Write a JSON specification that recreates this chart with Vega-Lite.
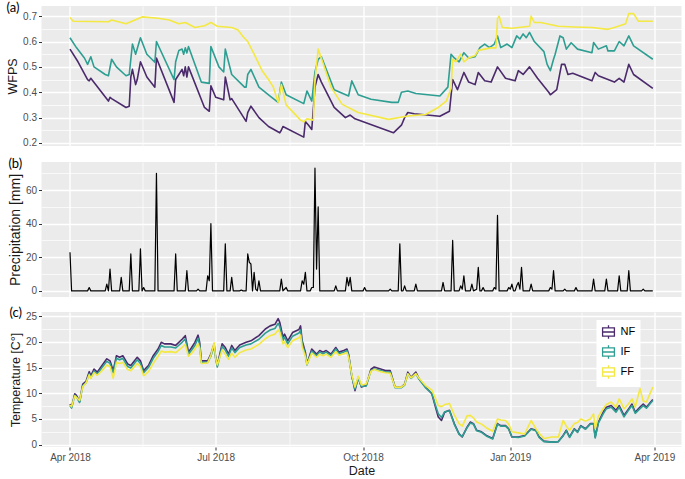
{
"$schema": "https://vega.github.io/schema/vega-lite/v6.json",
"background": "white",
"padding": {"top": 2, "left": 6.5, "right": 1, "bottom": 0},
"spacing": 10,
"resolve": {"scale": {"color": "independent"}, "legend": {"color": "independent"}},
"config": {
  "font": "Liberation Sans",
  "view": {"fill": "#EBEBEB", "stroke": null},
  "axis": {"domain": false, "gridColor": "#FFFFFF", "tickColor": "#333333", "tickSize": 3, "labelColor": "#4D4D4D", "labelFontSize": 10, "labelFont": "Liberation Sans", "titleFont": "Liberation Sans", "titleFontSize": 12.5, "titleFontWeight": "normal", "titleColor": "#1A1A1A", "labelPadding": 2, "titlePadding": 3},
  "title": {"anchor": "start", "frame": "bounds", "fontSize": 13, "fontWeight": "normal", "font": "Lato", "offset": -9, "color": "#000000"}
},
"vconcat": [
{
  "width": 640, "height": 140,
  "title": "(a)",
  "data": {"format": {"parse": {"d": "date:'%Y-%m-%d'"}}, "values": [
{"s":"NF","d":"2018-04-01","v":0.57},{"s":"NF","d":"2018-04-06","v":0.52},{"s":"NF","d":"2018-04-12","v":0.45},{"s":"NF","d":"2018-04-13","v":0.445},{"s":"NF","d":"2018-04-14","v":0.455},{"s":"NF","d":"2018-04-25","v":0.365},{"s":"NF","d":"2018-04-26","v":0.38},{"s":"NF","d":"2018-04-27","v":0.375},{"s":"NF","d":"2018-05-06","v":0.34},{"s":"NF","d":"2018-05-08","v":0.345},{"s":"NF","d":"2018-05-09","v":0.46},{"s":"NF","d":"2018-05-10","v":0.49},{"s":"NF","d":"2018-05-12","v":0.43},{"s":"NF","d":"2018-05-13","v":0.45},{"s":"NF","d":"2018-05-15","v":0.52},{"s":"NF","d":"2018-05-19","v":0.46},{"s":"NF","d":"2018-05-24","v":0.42},{"s":"NF","d":"2018-05-25","v":0.535},{"s":"NF","d":"2018-06-05","v":0.36},{"s":"NF","d":"2018-06-06","v":0.45},{"s":"NF","d":"2018-06-08","v":0.47},{"s":"NF","d":"2018-06-10","v":0.49},{"s":"NF","d":"2018-06-11","v":0.465},{"s":"NF","d":"2018-06-12","v":0.5},{"s":"NF","d":"2018-06-13","v":0.46},{"s":"NF","d":"2018-06-14","v":0.5},{"s":"NF","d":"2018-06-24","v":0.34},{"s":"NF","d":"2018-06-27","v":0.325},{"s":"NF","d":"2018-06-28","v":0.425},{"s":"NF","d":"2018-07-01","v":0.38},{"s":"NF","d":"2018-07-06","v":0.37},{"s":"NF","d":"2018-07-07","v":0.46},{"s":"NF","d":"2018-07-10","v":0.37},{"s":"NF","d":"2018-07-11","v":0.375},{"s":"NF","d":"2018-07-20","v":0.285},{"s":"NF","d":"2018-07-21","v":0.32},{"s":"NF","d":"2018-07-23","v":0.345},{"s":"NF","d":"2018-07-28","v":0.3},{"s":"NF","d":"2018-08-03","v":0.265},{"s":"NF","d":"2018-08-10","v":0.24},{"s":"NF","d":"2018-08-11","v":0.25},{"s":"NF","d":"2018-08-12","v":0.265},{"s":"NF","d":"2018-08-25","v":0.223},{"s":"NF","d":"2018-08-26","v":0.285},{"s":"NF","d":"2018-08-28","v":0.27},{"s":"NF","d":"2018-08-30","v":0.253},{"s":"NF","d":"2018-09-01","v":0.42},{"s":"NF","d":"2018-09-03","v":0.47},{"s":"NF","d":"2018-09-05","v":0.44},{"s":"NF","d":"2018-09-13","v":0.34},{"s":"NF","d":"2018-09-20","v":0.3},{"s":"NF","d":"2018-09-23","v":0.31},{"s":"NF","d":"2018-09-26","v":0.295},{"s":"NF","d":"2018-10-20","v":0.24},{"s":"NF","d":"2018-10-25","v":0.27},{"s":"NF","d":"2018-10-27","v":0.3},{"s":"NF","d":"2018-10-29","v":0.32},{"s":"NF","d":"2018-11-02","v":0.315},{"s":"NF","d":"2018-11-18","v":0.305},{"s":"NF","d":"2018-11-24","v":0.325},{"s":"NF","d":"2018-11-26","v":0.45},{"s":"NF","d":"2018-11-29","v":0.41},{"s":"NF","d":"2018-12-03","v":0.478},{"s":"NF","d":"2018-12-06","v":0.44},{"s":"NF","d":"2018-12-10","v":0.43},{"s":"NF","d":"2018-12-12","v":0.478},{"s":"NF","d":"2018-12-16","v":0.445},{"s":"NF","d":"2018-12-20","v":0.44},{"s":"NF","d":"2018-12-24","v":0.5},{"s":"NF","d":"2018-12-29","v":0.455},{"s":"NF","d":"2019-01-04","v":0.445},{"s":"NF","d":"2019-01-06","v":0.485},{"s":"NF","d":"2019-01-09","v":0.47},{"s":"NF","d":"2019-01-13","v":0.5},{"s":"NF","d":"2019-01-18","v":0.455},{"s":"NF","d":"2019-01-25","v":0.4},{"s":"NF","d":"2019-01-26","v":0.39},{"s":"NF","d":"2019-01-30","v":0.41},{"s":"NF","d":"2019-02-02","v":0.51},{"s":"NF","d":"2019-02-04","v":0.51},{"s":"NF","d":"2019-02-06","v":0.47},{"s":"NF","d":"2019-02-09","v":0.475},{"s":"NF","d":"2019-02-21","v":0.445},{"s":"NF","d":"2019-02-23","v":0.478},{"s":"NF","d":"2019-02-25","v":0.465},{"s":"NF","d":"2019-03-07","v":0.44},{"s":"NF","d":"2019-03-10","v":0.455},{"s":"NF","d":"2019-03-13","v":0.44},{"s":"NF","d":"2019-03-16","v":0.51},{"s":"NF","d":"2019-03-19","v":0.47},{"s":"NF","d":"2019-03-31","v":0.415},
{"s":"IF","d":"2018-04-01","v":0.615},{"s":"IF","d":"2018-04-05","v":0.576},{"s":"IF","d":"2018-04-10","v":0.535},{"s":"IF","d":"2018-04-12","v":0.51},{"s":"IF","d":"2018-04-14","v":0.54},{"s":"IF","d":"2018-04-16","v":0.5},{"s":"IF","d":"2018-04-23","v":0.47},{"s":"IF","d":"2018-04-25","v":0.465},{"s":"IF","d":"2018-04-27","v":0.53},{"s":"IF","d":"2018-04-30","v":0.5},{"s":"IF","d":"2018-05-06","v":0.465},{"s":"IF","d":"2018-05-08","v":0.47},{"s":"IF","d":"2018-05-09","v":0.53},{"s":"IF","d":"2018-05-10","v":0.59},{"s":"IF","d":"2018-05-12","v":0.55},{"s":"IF","d":"2018-05-15","v":0.615},{"s":"IF","d":"2018-05-19","v":0.55},{"s":"IF","d":"2018-05-24","v":0.518},{"s":"IF","d":"2018-05-25","v":0.6},{"s":"IF","d":"2018-06-05","v":0.45},{"s":"IF","d":"2018-06-06","v":0.52},{"s":"IF","d":"2018-06-08","v":0.565},{"s":"IF","d":"2018-06-10","v":0.57},{"s":"IF","d":"2018-06-11","v":0.55},{"s":"IF","d":"2018-06-12","v":0.575},{"s":"IF","d":"2018-06-13","v":0.555},{"s":"IF","d":"2018-06-14","v":0.58},{"s":"IF","d":"2018-06-22","v":0.44},{"s":"IF","d":"2018-06-27","v":0.435},{"s":"IF","d":"2018-06-28","v":0.58},{"s":"IF","d":"2018-07-03","v":0.5},{"s":"IF","d":"2018-07-06","v":0.48},{"s":"IF","d":"2018-07-07","v":0.57},{"s":"IF","d":"2018-07-11","v":0.47},{"s":"IF","d":"2018-07-19","v":0.42},{"s":"IF","d":"2018-07-20","v":0.42},{"s":"IF","d":"2018-07-21","v":0.47},{"s":"IF","d":"2018-07-23","v":0.49},{"s":"IF","d":"2018-07-28","v":0.42},{"s":"IF","d":"2018-08-03","v":0.39},{"s":"IF","d":"2018-08-09","v":0.36},{"s":"IF","d":"2018-08-11","v":0.44},{"s":"IF","d":"2018-08-14","v":0.39},{"s":"IF","d":"2018-08-25","v":0.355},{"s":"IF","d":"2018-08-27","v":0.405},{"s":"IF","d":"2018-08-30","v":0.365},{"s":"IF","d":"2018-09-01","v":0.48},{"s":"IF","d":"2018-09-03","v":0.53},{"s":"IF","d":"2018-09-05","v":0.54},{"s":"IF","d":"2018-09-13","v":0.41},{"s":"IF","d":"2018-09-22","v":0.385},{"s":"IF","d":"2018-09-24","v":0.445},{"s":"IF","d":"2018-09-28","v":0.39},{"s":"IF","d":"2018-10-06","v":0.372},{"s":"IF","d":"2018-10-19","v":0.36},{"s":"IF","d":"2018-10-23","v":0.36},{"s":"IF","d":"2018-10-25","v":0.4},{"s":"IF","d":"2018-10-29","v":0.405},{"s":"IF","d":"2018-11-03","v":0.395},{"s":"IF","d":"2018-11-18","v":0.385},{"s":"IF","d":"2018-11-23","v":0.42},{"s":"IF","d":"2018-11-25","v":0.55},{"s":"IF","d":"2018-11-27","v":0.535},{"s":"IF","d":"2018-11-30","v":0.52},{"s":"IF","d":"2018-12-03","v":0.556},{"s":"IF","d":"2018-12-06","v":0.535},{"s":"IF","d":"2018-12-10","v":0.54},{"s":"IF","d":"2018-12-13","v":0.576},{"s":"IF","d":"2018-12-16","v":0.59},{"s":"IF","d":"2018-12-19","v":0.576},{"s":"IF","d":"2018-12-22","v":0.59},{"s":"IF","d":"2018-12-24","v":0.622},{"s":"IF","d":"2018-12-26","v":0.576},{"s":"IF","d":"2018-12-30","v":0.59},{"s":"IF","d":"2019-01-02","v":0.576},{"s":"IF","d":"2019-01-05","v":0.622},{"s":"IF","d":"2019-01-07","v":0.61},{"s":"IF","d":"2019-01-09","v":0.63},{"s":"IF","d":"2019-01-11","v":0.615},{"s":"IF","d":"2019-01-13","v":0.636},{"s":"IF","d":"2019-01-16","v":0.6},{"s":"IF","d":"2019-01-22","v":0.56},{"s":"IF","d":"2019-01-24","v":0.51},{"s":"IF","d":"2019-01-26","v":0.485},{"s":"IF","d":"2019-01-28","v":0.53},{"s":"IF","d":"2019-01-29","v":0.55},{"s":"IF","d":"2019-02-01","v":0.622},{"s":"IF","d":"2019-02-03","v":0.615},{"s":"IF","d":"2019-02-05","v":0.57},{"s":"IF","d":"2019-02-08","v":0.595},{"s":"IF","d":"2019-02-12","v":0.57},{"s":"IF","d":"2019-02-21","v":0.556},{"s":"IF","d":"2019-02-22","v":0.596},{"s":"IF","d":"2019-02-25","v":0.57},{"s":"IF","d":"2019-03-02","v":0.583},{"s":"IF","d":"2019-03-03","v":0.563},{"s":"IF","d":"2019-03-07","v":0.563},{"s":"IF","d":"2019-03-10","v":0.6},{"s":"IF","d":"2019-03-13","v":0.583},{"s":"IF","d":"2019-03-16","v":0.622},{"s":"IF","d":"2019-03-19","v":0.583},{"s":"IF","d":"2019-03-31","v":0.53},
{"s":"FF","d":"2018-04-01","v":0.695},{"s":"FF","d":"2018-04-03","v":0.68},{"s":"FF","d":"2018-04-25","v":0.678},{"s":"FF","d":"2018-04-27","v":0.685},{"s":"FF","d":"2018-05-06","v":0.67},{"s":"FF","d":"2018-05-16","v":0.697},{"s":"FF","d":"2018-05-26","v":0.692},{"s":"FF","d":"2018-06-02","v":0.685},{"s":"FF","d":"2018-06-08","v":0.67},{"s":"FF","d":"2018-06-12","v":0.675},{"s":"FF","d":"2018-06-18","v":0.655},{"s":"FF","d":"2018-06-24","v":0.662},{"s":"FF","d":"2018-06-28","v":0.675},{"s":"FF","d":"2018-07-02","v":0.66},{"s":"FF","d":"2018-07-11","v":0.655},{"s":"FF","d":"2018-07-15","v":0.645},{"s":"FF","d":"2018-07-18","v":0.62},{"s":"FF","d":"2018-07-21","v":0.6},{"s":"FF","d":"2018-07-25","v":0.55},{"s":"FF","d":"2018-07-30","v":0.485},{"s":"FF","d":"2018-08-03","v":0.45},{"s":"FF","d":"2018-08-06","v":0.42},{"s":"FF","d":"2018-08-09","v":0.36},{"s":"FF","d":"2018-08-11","v":0.43},{"s":"FF","d":"2018-08-14","v":0.35},{"s":"FF","d":"2018-08-23","v":0.29},{"s":"FF","d":"2018-08-25","v":0.283},{"s":"FF","d":"2018-08-27","v":0.295},{"s":"FF","d":"2018-08-31","v":0.29},{"s":"FF","d":"2018-09-01","v":0.45},{"s":"FF","d":"2018-09-03","v":0.57},{"s":"FF","d":"2018-09-06","v":0.515},{"s":"FF","d":"2018-09-11","v":0.42},{"s":"FF","d":"2018-09-18","v":0.352},{"s":"FF","d":"2018-09-28","v":0.32},{"s":"FF","d":"2018-10-17","v":0.293},{"s":"FF","d":"2018-10-29","v":0.306},{"s":"FF","d":"2018-11-09","v":0.312},{"s":"FF","d":"2018-11-17","v":0.34},{"s":"FF","d":"2018-11-22","v":0.365},{"s":"FF","d":"2018-11-25","v":0.415},{"s":"FF","d":"2018-11-26","v":0.53},{"s":"FF","d":"2018-11-28","v":0.52},{"s":"FF","d":"2018-12-01","v":0.55},{"s":"FF","d":"2018-12-03","v":0.52},{"s":"FF","d":"2018-12-06","v":0.535},{"s":"FF","d":"2018-12-10","v":0.545},{"s":"FF","d":"2018-12-12","v":0.565},{"s":"FF","d":"2018-12-20","v":0.575},{"s":"FF","d":"2018-12-23","v":0.575},{"s":"FF","d":"2018-12-24","v":0.69},{"s":"FF","d":"2018-12-25","v":0.7},{"s":"FF","d":"2018-12-27","v":0.655},{"s":"FF","d":"2019-01-02","v":0.652},{"s":"FF","d":"2019-01-13","v":0.66},{"s":"FF","d":"2019-01-14","v":0.7},{"s":"FF","d":"2019-01-16","v":0.675},{"s":"FF","d":"2019-01-20","v":0.675},{"s":"FF","d":"2019-01-31","v":0.66},{"s":"FF","d":"2019-02-10","v":0.657},{"s":"FF","d":"2019-02-21","v":0.655},{"s":"FF","d":"2019-03-03","v":0.648},{"s":"FF","d":"2019-03-07","v":0.655},{"s":"FF","d":"2019-03-14","v":0.67},{"s":"FF","d":"2019-03-16","v":0.71},{"s":"FF","d":"2019-03-19","v":0.71},{"s":"FF","d":"2019-03-22","v":0.68},{"s":"FF","d":"2019-03-31","v":0.68}
  ]},
  "mark": {"type": "line", "strokeWidth": 1.6, "strokeJoin": "round"},
  "encoding": {
    "x": {"field": "d", "type": "temporal",
      "scale": {"domain": [{"year":2018,"month":3,"date":14,"hours":5},{"year":2019,"month":4,"date":17,"hours":22}]},
      "axis": {"title": null, "labels": false, "ticks": false,
        "values": [{"year":2018,"month":4,"date":1},{"year":2018,"month":5,"date":16,"hours":12},{"year":2018,"month":7,"date":1},{"year":2018,"month":8,"date":16},{"year":2018,"month":10,"date":1},{"year":2018,"month":11,"date":16},{"year":2019,"month":1,"date":1},{"year":2019,"month":2,"date":14,"hours":12},{"year":2019,"month":4,"date":1}],
        "gridWidth": {"condition": {"test": "date(datum.value) == 1", "value": 1.4}, "value": 0.7}}},
    "y": {"field": "v", "type": "quantitative",
      "scale": {"domain": [0.188, 0.74], "nice": false, "zero": false},
      "axis": {"title": "WFPS", "format": ".1f",
        "values": [0.2,0.25,0.3,0.35,0.4,0.45,0.5,0.55,0.6,0.65,0.7],
        "labelExpr": "abs(datum.value*10 - round(datum.value*10)) < 0.001 ? datum.label : ''",
        "tickOpacity": {"condition": {"test": "abs(datum.value*10 - round(datum.value*10)) < 0.001", "value": 1}, "value": 0},
        "gridWidth": {"condition": {"test": "abs(datum.value*10 - round(datum.value*10)) < 0.001", "value": 1.4}, "value": 0.7}}},
    "color": {"field": "s", "type": "nominal", "scale": {"domain": ["NF","IF","FF"], "range": ["#4B2A6C","#2E9E92","#F4E842"]}, "legend": null}
  }
},
{
  "width": 640, "height": 135,
  "title": "(b)",
  "data": {"format": {"parse": {"d": "date:'%Y-%m-%d'"}}, "values": [
{"d":"2018-04-01","p":23},{"d":"2018-04-02","p":0},{"d":"2018-04-12","p":0},{"d":"2018-04-13","p":2},{"d":"2018-04-14","p":0},{"d":"2018-04-23","p":0},{"d":"2018-04-24","p":4},{"d":"2018-04-25","p":0},{"d":"2018-04-26","p":13},{"d":"2018-04-27","p":0},{"d":"2018-05-02","p":0},{"d":"2018-05-03","p":8},{"d":"2018-05-04","p":0},{"d":"2018-05-08","p":0},{"d":"2018-05-09","p":22},{"d":"2018-05-10","p":0},{"d":"2018-05-14","p":0},{"d":"2018-05-15","p":25},{"d":"2018-05-16","p":0},{"d":"2018-05-17","p":2},{"d":"2018-05-18","p":0},{"d":"2018-05-24","p":0},{"d":"2018-05-25","p":70},{"d":"2018-05-26","p":0},{"d":"2018-06-05","p":0},{"d":"2018-06-06","p":22},{"d":"2018-06-07","p":0},{"d":"2018-06-12","p":0},{"d":"2018-06-13","p":12},{"d":"2018-06-14","p":0},{"d":"2018-06-19","p":0},{"d":"2018-06-20","p":1},{"d":"2018-06-21","p":0},{"d":"2018-06-25","p":0},{"d":"2018-06-26","p":9},{"d":"2018-06-27","p":6},{"d":"2018-06-28","p":40},{"d":"2018-06-29","p":0},{"d":"2018-07-06","p":0},{"d":"2018-07-07","p":28},{"d":"2018-07-08","p":0},{"d":"2018-07-10","p":0},{"d":"2018-07-11","p":8},{"d":"2018-07-12","p":0},{"d":"2018-07-16","p":0},{"d":"2018-07-17","p":0.5},{"d":"2018-07-18","p":0},{"d":"2018-07-20","p":0},{"d":"2018-07-21","p":22},{"d":"2018-07-22","p":17},{"d":"2018-07-23","p":16},{"d":"2018-07-24","p":0},{"d":"2018-07-25","p":11},{"d":"2018-07-26","p":1},{"d":"2018-07-27","p":0},{"d":"2018-07-28","p":6},{"d":"2018-07-29","p":0},{"d":"2018-08-10","p":0},{"d":"2018-08-11","p":7},{"d":"2018-08-12","p":0},{"d":"2018-08-14","p":2},{"d":"2018-08-15","p":0},{"d":"2018-08-23","p":0},{"d":"2018-08-24","p":6},{"d":"2018-08-25","p":4},{"d":"2018-08-26","p":11},{"d":"2018-08-27","p":0},{"d":"2018-08-29","p":0},{"d":"2018-08-30","p":2},{"d":"2018-08-31","p":2},{"d":"2018-09-01","p":73},{"d":"2018-09-02","p":13},{"d":"2018-09-03","p":50},{"d":"2018-09-04","p":0},{"d":"2018-09-13","p":0},{"d":"2018-09-14","p":3},{"d":"2018-09-15","p":0},{"d":"2018-09-20","p":0},{"d":"2018-09-21","p":8},{"d":"2018-09-22","p":3},{"d":"2018-09-23","p":8},{"d":"2018-09-24","p":0},{"d":"2018-10-01","p":0},{"d":"2018-10-02","p":2},{"d":"2018-10-03","p":0},{"d":"2018-10-17","p":0},{"d":"2018-10-18","p":1},{"d":"2018-10-19","p":0},{"d":"2018-10-23","p":0},{"d":"2018-10-24","p":28},{"d":"2018-10-25","p":0},{"d":"2018-10-26","p":0},{"d":"2018-10-27","p":3},{"d":"2018-10-28","p":0},{"d":"2018-11-02","p":0},{"d":"2018-11-03","p":4},{"d":"2018-11-04","p":0},{"d":"2018-11-19","p":0},{"d":"2018-11-20","p":5},{"d":"2018-11-21","p":0},{"d":"2018-11-25","p":0},{"d":"2018-11-26","p":30},{"d":"2018-11-27","p":0},{"d":"2018-11-30","p":0},{"d":"2018-12-01","p":3},{"d":"2018-12-02","p":1},{"d":"2018-12-03","p":9},{"d":"2018-12-04","p":0},{"d":"2018-12-07","p":0},{"d":"2018-12-08","p":4},{"d":"2018-12-09","p":0},{"d":"2018-12-11","p":1},{"d":"2018-12-12","p":14},{"d":"2018-12-13","p":0},{"d":"2018-12-14","p":0},{"d":"2018-12-15","p":2},{"d":"2018-12-16","p":0},{"d":"2018-12-21","p":0},{"d":"2018-12-22","p":2},{"d":"2018-12-23","p":1},{"d":"2018-12-24","p":45},{"d":"2018-12-25","p":0},{"d":"2018-12-30","p":0},{"d":"2018-12-31","p":2},{"d":"2019-01-01","p":1},{"d":"2019-01-02","p":4},{"d":"2019-01-03","p":0},{"d":"2019-01-04","p":0},{"d":"2019-01-05","p":3},{"d":"2019-01-06","p":5},{"d":"2019-01-07","p":1},{"d":"2019-01-08","p":14},{"d":"2019-01-09","p":0},{"d":"2019-01-13","p":0},{"d":"2019-01-14","p":4},{"d":"2019-01-15","p":0},{"d":"2019-01-25","p":0},{"d":"2019-01-26","p":2},{"d":"2019-01-27","p":1},{"d":"2019-01-28","p":12},{"d":"2019-01-29","p":0},{"d":"2019-02-03","p":0},{"d":"2019-02-04","p":1},{"d":"2019-02-05","p":0},{"d":"2019-02-10","p":0},{"d":"2019-02-11","p":2},{"d":"2019-02-12","p":0},{"d":"2019-02-21","p":0},{"d":"2019-02-22","p":7},{"d":"2019-02-23","p":0},{"d":"2019-03-01","p":0},{"d":"2019-03-02","p":7},{"d":"2019-03-03","p":0},{"d":"2019-03-09","p":0},{"d":"2019-03-10","p":9},{"d":"2019-03-11","p":0},{"d":"2019-03-15","p":0},{"d":"2019-03-16","p":12},{"d":"2019-03-17","p":0},{"d":"2019-03-24","p":0},{"d":"2019-03-25","p":1},{"d":"2019-03-26","p":0},{"d":"2019-03-31","p":0}
  ]},
  "mark": {"type": "line", "color": "#000000", "strokeWidth": 1.2, "strokeJoin": "round"},
  "encoding": {
    "x": {"field": "d", "type": "temporal",
      "scale": {"domain": [{"year":2018,"month":3,"date":14,"hours":5},{"year":2019,"month":4,"date":17,"hours":22}]},
      "axis": {"title": null, "labels": false, "ticks": false,
        "values": [{"year":2018,"month":4,"date":1},{"year":2018,"month":5,"date":16,"hours":12},{"year":2018,"month":7,"date":1},{"year":2018,"month":8,"date":16},{"year":2018,"month":10,"date":1},{"year":2018,"month":11,"date":16},{"year":2019,"month":1,"date":1},{"year":2019,"month":2,"date":14,"hours":12},{"year":2019,"month":4,"date":1}],
        "gridWidth": {"condition": {"test": "date(datum.value) == 1", "value": 1.4}, "value": 0.7}}},
    "y": {"field": "p", "type": "quantitative",
      "scale": {"domain": [-3.65, 76.7], "nice": false, "zero": false},
      "axis": {"title": "Precipitation [mm]", "titleFontSize": 14,
        "values": [0,10,20,30,40,50,60,70],
        "labelExpr": "datum.value % 20 == 0 ? datum.label : ''",
        "tickOpacity": {"condition": {"test": "datum.value % 20 == 0", "value": 1}, "value": 0},
        "gridWidth": {"condition": {"test": "datum.value % 20 == 0", "value": 1.4}, "value": 0.7}}}
  }
},
{
  "width": 640, "height": 135,
  "title": "(c)",
  "data": {"format": {"parse": {"d": "date:'%Y-%m-%d'"}}, "values": [
{"d":"2018-04-01","NF":7.9,"IF":7.6,"FF":7.7},{"d":"2018-04-02","NF":7.3,"IF":7.1,"FF":7.4},{"d":"2018-04-04","NF":9.9,"IF":9.6,"FF":9.5},{"d":"2018-04-05","NF":9.6,"IF":9.3,"FF":9.2},{"d":"2018-04-07","NF":8.4,"IF":8.2,"FF":8.6},{"d":"2018-04-09","NF":11.8,"IF":11.5,"FF":11.3},{"d":"2018-04-11","NF":12.3,"IF":12.0,"FF":12.0},{"d":"2018-04-13","NF":14.2,"IF":13.8,"FF":13.6},{"d":"2018-04-14","NF":13.4,"IF":13.0,"FF":12.9},{"d":"2018-04-16","NF":14.7,"IF":14.3,"FF":14.0},{"d":"2018-04-18","NF":14.1,"IF":13.7,"FF":13.5},{"d":"2018-04-21","NF":15.4,"IF":15.0,"FF":14.4},{"d":"2018-04-24","NF":16.7,"IF":16.2,"FF":15.5},{"d":"2018-04-26","NF":16.3,"IF":15.8,"FF":15.2},{"d":"2018-04-28","NF":14.4,"IF":14.0,"FF":12.9},{"d":"2018-04-30","NF":17.3,"IF":16.8,"FF":16.0},{"d":"2018-05-02","NF":17.0,"IF":16.5,"FF":15.8},{"d":"2018-05-04","NF":17.3,"IF":16.8,"FF":16.0},{"d":"2018-05-07","NF":15.7,"IF":15.2,"FF":14.6},{"d":"2018-05-09","NF":15.4,"IF":14.9,"FF":14.4},{"d":"2018-05-13","NF":17.0,"IF":16.5,"FF":15.8},{"d":"2018-05-15","NF":16.3,"IF":15.8,"FF":15.2},{"d":"2018-05-17","NF":14.4,"IF":14.0,"FF":13.4},{"d":"2018-05-20","NF":15.4,"IF":15.0,"FF":14.2},{"d":"2018-05-23","NF":17.3,"IF":16.8,"FF":15.8},{"d":"2018-05-26","NF":18.6,"IF":18.1,"FF":17.2},{"d":"2018-05-28","NF":19.9,"IF":19.3,"FF":18.2},{"d":"2018-05-30","NF":19.6,"IF":19.0,"FF":18.0},{"d":"2018-06-03","NF":19.6,"IF":19.0,"FF":18.1},{"d":"2018-06-06","NF":19.3,"IF":18.8,"FF":17.9},{"d":"2018-06-10","NF":20.5,"IF":19.9,"FF":18.9},{"d":"2018-06-12","NF":21.2,"IF":20.6,"FF":19.5},{"d":"2018-06-14","NF":18.0,"IF":17.6,"FF":17.2},{"d":"2018-06-16","NF":18.9,"IF":18.4,"FF":17.8},{"d":"2018-06-18","NF":19.9,"IF":19.3,"FF":18.6},{"d":"2018-06-20","NF":21.3,"IF":20.7,"FF":19.6},{"d":"2018-06-21","NF":19.9,"IF":19.4,"FF":18.8},{"d":"2018-06-22","NF":16.3,"IF":16.0,"FF":15.8},{"d":"2018-06-26","NF":16.3,"IF":16.0,"FF":15.9},{"d":"2018-06-28","NF":17.6,"IF":17.2,"FF":17.4},{"d":"2018-06-30","NF":19.6,"IF":19.2,"FF":19.8},{"d":"2018-07-01","NF":17.0,"IF":16.7,"FF":16.8},{"d":"2018-07-02","NF":15.4,"IF":15.1,"FF":15.5},{"d":"2018-07-05","NF":19.6,"IF":19.1,"FF":18.4},{"d":"2018-07-07","NF":18.9,"IF":18.4,"FF":17.6},{"d":"2018-07-09","NF":17.6,"IF":17.2,"FF":16.6},{"d":"2018-07-11","NF":19.3,"IF":18.8,"FF":17.8},{"d":"2018-07-13","NF":18.3,"IF":17.9,"FF":17.0},{"d":"2018-07-16","NF":19.4,"IF":18.9,"FF":17.9},{"d":"2018-07-20","NF":19.9,"IF":19.4,"FF":18.4},{"d":"2018-07-23","NF":20.2,"IF":19.6,"FF":18.6},{"d":"2018-07-28","NF":21.2,"IF":20.5,"FF":19.5},{"d":"2018-08-01","NF":22.5,"IF":21.7,"FF":20.6},{"d":"2018-08-04","NF":23.1,"IF":22.3,"FF":21.2},{"d":"2018-08-07","NF":23.4,"IF":22.6,"FF":21.5},{"d":"2018-08-09","NF":24.5,"IF":23.6,"FF":22.3},{"d":"2018-08-10","NF":23.8,"IF":23.0,"FF":21.9},{"d":"2018-08-12","NF":20.9,"IF":20.3,"FF":19.6},{"d":"2018-08-13","NF":21.5,"IF":20.9,"FF":20.0},{"d":"2018-08-15","NF":20.2,"IF":19.6,"FF":18.9},{"d":"2018-08-18","NF":21.8,"IF":21.1,"FF":20.2},{"d":"2018-08-22","NF":22.4,"IF":21.7,"FF":20.8},{"d":"2018-08-23","NF":23.1,"IF":22.3,"FF":21.3},{"d":"2018-08-24","NF":20.2,"IF":19.7,"FF":19.0},{"d":"2018-08-26","NF":18.0,"IF":17.6,"FF":17.2},{"d":"2018-08-27","NF":15.7,"IF":15.5,"FF":15.6},{"d":"2018-08-30","NF":18.6,"IF":18.2,"FF":17.8},{"d":"2018-09-02","NF":17.6,"IF":17.3,"FF":17.0},{"d":"2018-09-04","NF":18.3,"IF":18.0,"FF":17.6},{"d":"2018-09-06","NF":18.0,"IF":17.7,"FF":17.3},{"d":"2018-09-08","NF":18.3,"IF":18.0,"FF":17.6},{"d":"2018-09-11","NF":17.6,"IF":17.3,"FF":17.0},{"d":"2018-09-14","NF":18.9,"IF":18.6,"FF":18.1},{"d":"2018-09-16","NF":18.0,"IF":17.7,"FF":17.4},{"d":"2018-09-19","NF":18.3,"IF":18.0,"FF":17.7},{"d":"2018-09-21","NF":18.6,"IF":18.3,"FF":17.9},{"d":"2018-09-22","NF":17.6,"IF":17.3,"FF":17.0},{"d":"2018-09-24","NF":13.4,"IF":13.3,"FF":13.6},{"d":"2018-09-26","NF":10.5,"IF":10.8,"FF":11.2},{"d":"2018-09-28","NF":13.1,"IF":12.9,"FF":13.3},{"d":"2018-09-30","NF":11.2,"IF":11.3,"FF":11.6},{"d":"2018-10-03","NF":11.5,"IF":11.4,"FF":11.8},{"d":"2018-10-06","NF":14.7,"IF":14.4,"FF":14.3},{"d":"2018-10-08","NF":15.1,"IF":14.7,"FF":14.6},{"d":"2018-10-12","NF":14.7,"IF":14.4,"FF":14.2},{"d":"2018-10-15","NF":14.4,"IF":14.1,"FF":14.0},{"d":"2018-10-18","NF":14.4,"IF":14.1,"FF":13.9},{"d":"2018-10-21","NF":11.2,"IF":11.1,"FF":11.2},{"d":"2018-10-25","NF":11.2,"IF":11.1,"FF":11.2},{"d":"2018-10-27","NF":11.8,"IF":11.6,"FF":11.7},{"d":"2018-10-29","NF":14.1,"IF":13.8,"FF":13.8},{"d":"2018-10-31","NF":13.1,"IF":12.9,"FF":13.0},{"d":"2018-11-03","NF":14.1,"IF":13.8,"FF":13.8},{"d":"2018-11-05","NF":12.8,"IF":12.7,"FF":12.9},{"d":"2018-11-09","NF":11.2,"IF":11.1,"FF":11.5},{"d":"2018-11-13","NF":9.9,"IF":10.0,"FF":10.6},{"d":"2018-11-15","NF":7.6,"IF":7.9,"FF":9.2},{"d":"2018-11-17","NF":5.4,"IF":6.0,"FF":7.6},{"d":"2018-11-19","NF":4.7,"IF":5.3,"FF":7.4},{"d":"2018-11-21","NF":6.3,"IF":6.4,"FF":7.8},{"d":"2018-11-24","NF":6.7,"IF":6.6,"FF":8.0},{"d":"2018-11-27","NF":4.1,"IF":4.0,"FF":5.8},{"d":"2018-11-30","NF":2.1,"IF":2.0,"FF":4.1},{"d":"2018-12-02","NF":1.5,"IF":1.6,"FF":3.6},{"d":"2018-12-05","NF":3.4,"IF":3.3,"FF":5.6},{"d":"2018-12-07","NF":4.4,"IF":4.2,"FF":5.7},{"d":"2018-12-09","NF":4.1,"IF":4.0,"FF":5.2},{"d":"2018-12-11","NF":2.8,"IF":2.7,"FF":4.4},{"d":"2018-12-14","NF":2.5,"IF":2.4,"FF":4.0},{"d":"2018-12-17","NF":1.8,"IF":1.7,"FF":3.3},{"d":"2018-12-21","NF":1.2,"IF":1.1,"FF":2.6},{"d":"2018-12-24","NF":4.1,"IF":4.0,"FF":5.0},{"d":"2018-12-26","NF":3.7,"IF":3.6,"FF":4.8},{"d":"2018-12-29","NF":3.7,"IF":3.6,"FF":4.7},{"d":"2018-12-31","NF":3.1,"IF":3.0,"FF":4.0},{"d":"2019-01-02","NF":1.5,"IF":1.5,"FF":2.5},{"d":"2019-01-06","NF":1.5,"IF":1.4,"FF":2.3},{"d":"2019-01-10","NF":1.8,"IF":1.7,"FF":2.1},{"d":"2019-01-14","NF":3.1,"IF":3.0,"FF":4.7},{"d":"2019-01-17","NF":2.8,"IF":2.7,"FF":3.1},{"d":"2019-01-19","NF":1.5,"IF":1.4,"FF":2.2},{"d":"2019-01-22","NF":0.7,"IF":0.6,"FF":1.2},{"d":"2019-01-27","NF":0.5,"IF":0.5,"FF":1.5},{"d":"2019-01-31","NF":0.6,"IF":0.6,"FF":1.5},{"d":"2019-02-03","NF":1.8,"IF":1.7,"FF":4.7},{"d":"2019-02-05","NF":2.8,"IF":2.7,"FF":3.6},{"d":"2019-02-07","NF":1.5,"IF":1.4,"FF":2.8},{"d":"2019-02-10","NF":3.1,"IF":3.0,"FF":4.1},{"d":"2019-02-12","NF":2.5,"IF":2.4,"FF":4.3},{"d":"2019-02-14","NF":3.7,"IF":3.6,"FF":5.0},{"d":"2019-02-17","NF":3.1,"IF":3.0,"FF":4.6},{"d":"2019-02-20","NF":4.1,"IF":4.0,"FF":5.0},{"d":"2019-02-22","NF":4.1,"IF":4.0,"FF":6.0},{"d":"2019-02-23","NF":1.5,"IF":1.3,"FF":3.1},{"d":"2019-02-25","NF":4.4,"IF":4.2,"FF":5.5},{"d":"2019-02-28","NF":6.3,"IF":6.0,"FF":7.0},{"d":"2019-03-02","NF":7.3,"IF":7.0,"FF":7.8},{"d":"2019-03-05","NF":7.6,"IF":7.3,"FF":8.3},{"d":"2019-03-08","NF":6.7,"IF":6.3,"FF":7.3},{"d":"2019-03-10","NF":7.6,"IF":7.3,"FF":8.9},{"d":"2019-03-13","NF":5.7,"IF":5.4,"FF":7.0},{"d":"2019-03-16","NF":7.0,"IF":6.8,"FF":8.0},{"d":"2019-03-18","NF":7.9,"IF":7.6,"FF":8.9},{"d":"2019-03-20","NF":6.3,"IF":6.1,"FF":7.3},{"d":"2019-03-23","NF":7.3,"IF":7.0,"FF":10.9},{"d":"2019-03-25","NF":7.9,"IF":7.6,"FF":8.5},{"d":"2019-03-27","NF":7.3,"IF":7.1,"FF":8.3},{"d":"2019-03-31","NF":8.8,"IF":8.6,"FF":11.2}
  ]},
  "transform": [{"fold": ["NF","IF","FF"], "as": ["s","v"]}],
  "mark": {"type": "line", "strokeWidth": 1.6, "strokeJoin": "round"},
  "encoding": {
    "x": {"field": "d", "type": "temporal",
      "scale": {"domain": [{"year":2018,"month":3,"date":14,"hours":5},{"year":2019,"month":4,"date":17,"hours":22}]},
      "axis": {"title": "Date", "titleFontSize": 12.5, "titlePadding": 2, "format": "%b %Y",
        "values": [{"year":2018,"month":4,"date":1},{"year":2018,"month":5,"date":16,"hours":12},{"year":2018,"month":7,"date":1},{"year":2018,"month":8,"date":16},{"year":2018,"month":10,"date":1},{"year":2018,"month":11,"date":16},{"year":2019,"month":1,"date":1},{"year":2019,"month":2,"date":14,"hours":12},{"year":2019,"month":4,"date":1}],
        "labelExpr": "date(datum.value) == 1 ? datum.label : ''",
        "labelFlush": false, "labelOverlap": false,
        "tickOpacity": {"condition": {"test": "date(datum.value) == 1", "value": 1}, "value": 0},
        "gridWidth": {"condition": {"test": "date(datum.value) == 1", "value": 1.4}, "value": 0.7}}},
    "y": {"field": "v", "type": "quantitative",
      "scale": {"domain": [-0.45, 25.8], "nice": false, "zero": false},
      "axis": {"title": "Temperature [C°]",
        "values": [0,2.5,5,7.5,10,12.5,15,17.5,20,22.5,25],
        "labelExpr": "datum.value % 5 == 0 ? datum.label : ''",
        "tickOpacity": {"condition": {"test": "datum.value % 5 == 0", "value": 1}, "value": 0},
        "gridWidth": {"condition": {"test": "datum.value % 5 == 0", "value": 1.4}, "value": 0.7}}},
    "color": {"field": "s", "type": "nominal", "sort": ["NF","IF","FF"],
      "scale": {"domain": ["NF","IF","FF"], "range": ["#4B2A6C","#2E9E92","#F4E842"]},
      "legend": {"title": null, "orient": "none", "legendX": 555, "legendY": 8, "fillColor": "#FFFFFF", "padding": 5,
        "symbolType": "M-1,-0.69H1V0.69H-1Z M-1,0H1 M0,-0.69V-1.15 M0,0.69V1.15",
        "symbolSize": 140, "symbolStrokeWidth": 1.3, "symbolFillColor": "transparent",
        "labelFontSize": 11, "labelColor": "#000000", "labelOffset": 5, "rowPadding": 0}}
  }
}
]
}
